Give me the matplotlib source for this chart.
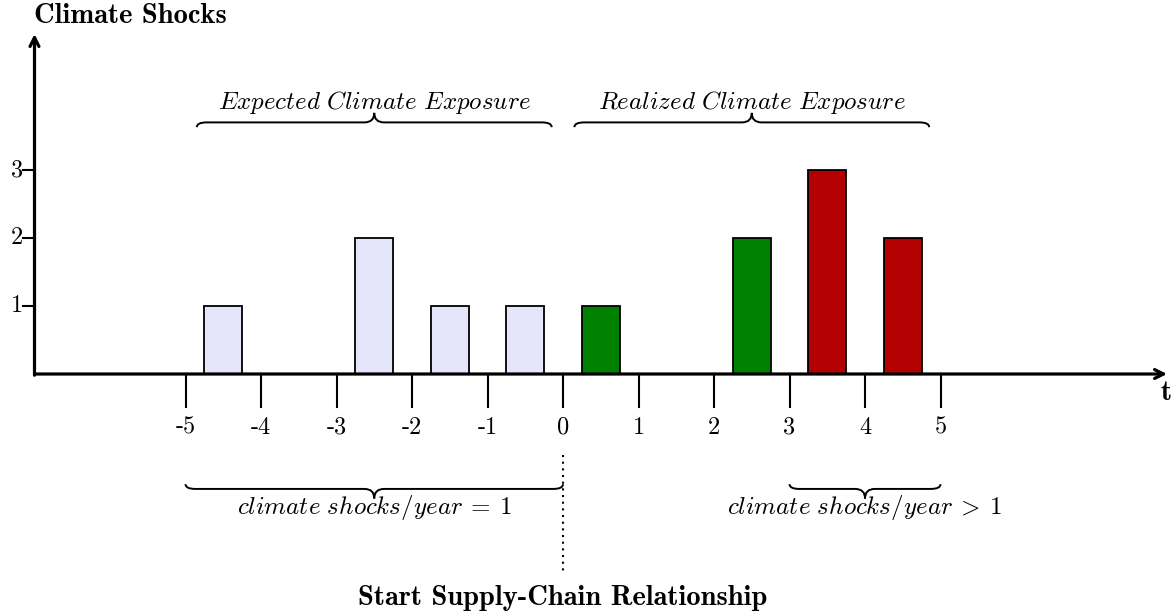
import matplotlib
matplotlib.use("Agg")
import matplotlib.pyplot as plt
from matplotlib.path import Path
from matplotlib.patches import PathPatch

plt.rcParams['mathtext.fontset'] = 'cm'

# data
bar_t = [-4.5, -2.5, -1.5, -0.5, 0.5, 2.5, 3.5, 4.5]
bar_shocks = [1, 2, 1, 1, 1, 2, 3, 2]
bar_colors = ['#E6E6FA', '#E6E6FA', '#E6E6FA', '#E6E6FA',
              '#008000', '#008000', '#B30000', '#B30000']
x_ticks = [-5, -4, -3, -2, -1, 0, 1, 2, 3, 4, 5]
x_tick_labels = ['-5', '-4', '-3', '-2', '-1', '0', '1', '2', '3', '4', '5']
y_ticks = [1, 2, 3]
y_tick_labels = ['1', '2', '3']

fig = plt.figure(figsize=(11.76, 6.15), dpi=100)
ax = fig.add_axes([0, 0, 1, 1])
ax.set_xlim(-7.457, 8.119)
ax.set_ylim(-3.544, 5.5)
ax.axis('off')

# bars
ax.bar(bar_t, bar_shocks, width=0.5, color=bar_colors, edgecolor='black',
       linewidth=1.3, zorder=2)

# axes arrows
ax.annotate('', xy=(8.0, 0), xytext=(-7.0, 0),
            arrowprops=dict(arrowstyle='->', lw=2.3, color='black',
                            mutation_scale=16, shrinkA=0, shrinkB=0), zorder=3)
ax.annotate('', xy=(-7.0, 5.0), xytext=(-7.0, -0.018),
            arrowprops=dict(arrowstyle='->', lw=2.3, color='black',
                            mutation_scale=16, shrinkA=0, shrinkB=0), zorder=3)

# x ticks
for t, lab in zip(x_ticks, x_tick_labels):
    ax.plot([t, t], [0, -0.48], color='black', lw=1.5, zorder=1)
    ax.text(t, -0.79, lab, family='cmr10', fontsize=17.5, ha='center', va='center')
# y ticks
for v, lab in zip(y_ticks, y_tick_labels):
    ax.plot([-7.146, -7.0], [v, v], color='black', lw=1.5)
    ax.text(-7.155, v, lab, family='cmr10', fontsize=17.5, ha='right', va='center')

ax.text(-7.007, 5.26, 'Climate Shocks', family='cmb10', fontsize=20.5, ha='left', va='center')
ax.text(7.99, -0.28, 't', family='cmb10', fontsize=20.5, ha='center', va='center')


def brace(x0, x1, yflat, amp, up=True, r=0.13):
    s = 1 if up else -1
    ye = yflat - s * amp * 0.5
    yt = yflat + s * amp
    xm = (x0 + x1) / 2
    verts = [(x0, ye), (x0, yflat), (x0 + r, yflat),
             (xm - r, yflat), (xm, yflat), (xm, yt),
             (xm, yflat), (xm + r, yflat),
             (x1 - r, yflat), (x1, yflat), (x1, ye)]
    codes = [Path.MOVETO, Path.CURVE3, Path.CURVE3,
             Path.LINETO, Path.CURVE3, Path.CURVE3,
             Path.CURVE3, Path.CURVE3,
             Path.LINETO, Path.CURVE3, Path.CURVE3]
    ax.add_patch(PathPatch(Path(verts, codes), fill=False, lw=1.4, color='black'))


brace(-4.85, -0.15, 3.70, 0.14, up=True)
brace(0.15, 4.85, 3.70, 0.14, up=True)
ax.text(-2.5, 4.0, r'$Expected\ Climate\ Exposure$', fontsize=18, ha='center', va='center')
ax.text(2.5, 4.0, r'$Realized\ Climate\ Exposure$', fontsize=18, ha='center', va='center')

brace(-5.0, 0.0, -1.69, 0.14, up=False)
brace(3.0, 5.0, -1.69, 0.14, up=False)
ax.text(-2.5, -1.96, r'$climate\ shocks/year\:=\:1$', fontsize=18, ha='center', va='center')
ax.text(4.0, -1.96, r'$climate\ shocks/year\:>\:1$', fontsize=18, ha='center', va='center')

ax.plot([0, 0], [-1.19, -2.91], color='black', lw=1.5, linestyle=(0, (1, 2.2)))
ax.text(0, -3.29, 'Start Supply-Chain Relationship', family='cmb10', fontsize=20.5,
        ha='center', va='center')

fig.savefig('out.png', dpi=100)
